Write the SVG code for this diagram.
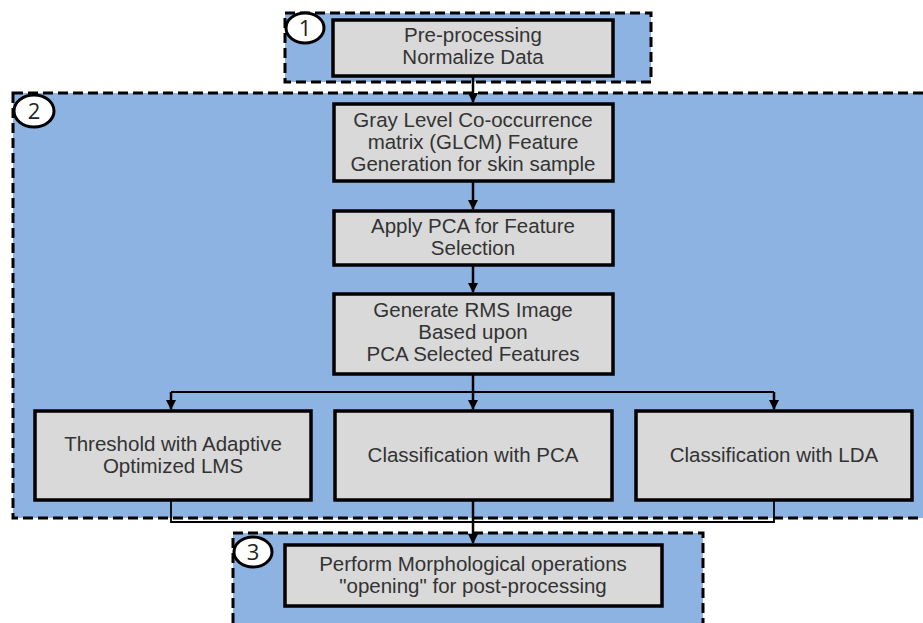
<svg xmlns="http://www.w3.org/2000/svg" width="923" height="623" viewBox="0 0 923 623">
<style>
.region{fill:#8DB3E2;stroke:#000;stroke-width:3;stroke-dasharray:10 5}
.box{fill:#D9D9D9;stroke:#000;stroke-width:3.5}
.t{font-family:"Liberation Sans",Arial,sans-serif;font-size:20.5px;fill:#333;text-anchor:middle}
.num{font-family:"Open Sans","Liberation Sans",sans-serif;font-size:22px;fill:#222;text-anchor:middle}
.badge{fill:#fff;stroke:#000;stroke-width:3}
.c{fill:none;stroke:#000;stroke-width:2.5}
.c2{fill:none;stroke:#000;stroke-width:1.8}
</style>
<defs>
<marker id="ah" markerWidth="10" markerHeight="11" refX="9" refY="5" orient="auto" markerUnits="userSpaceOnUse">
<path d="M0,0 L10,5 L0,10 Z" fill="#000"/>
</marker>
</defs>
<rect width="923" height="623" fill="#fff"/>
<g id="region2"><rect class="region" x="13" y="93" width="930" height="425"/>
<ellipse class="badge" cx="34" cy="111" rx="20" ry="16"/><text class="num" x="34" y="119">2</text></g>
<g id="region1"><rect class="region" x="285" y="13" width="366" height="69"/>
<ellipse class="badge" cx="305" cy="28" rx="19" ry="15"/><text class="num" x="305" y="36">1</text></g>
<g id="region3"><rect class="region" x="233" y="533" width="470" height="100"/>
<ellipse class="badge" cx="253" cy="552" rx="19" ry="15"/><text class="num" x="253" y="560">3</text></g>
<g id="connectors">
<path class="c" d="M473,76 V102" marker-end="url(#ah)"/>
<path class="c" d="M473,181 V209" marker-end="url(#ah)"/>
<path class="c" d="M473,265 V292" marker-end="url(#ah)"/>
<path class="c" d="M473,374 V392"/>
<path class="c2" d="M171,392 H774"/>
<path class="c" d="M171,392 V409" marker-end="url(#ah)"/>
<path class="c" d="M473,392 V409" marker-end="url(#ah)"/>
<path class="c" d="M774,392 V409" marker-end="url(#ah)"/>
<path class="c2" d="M171,500 V522 H774 V500"/>
<path class="c" d="M473,500 V543" marker-end="url(#ah)"/>
</g>
<g id="n1"><rect class="box" x="333" y="20" width="280" height="56"/>
<text class="t" x="473" y="42">Pre-processing</text><text class="t" x="473" y="64">Normalize Data</text></g>
<g id="n2"><rect class="box" x="334" y="104" width="279" height="77"/>
<text class="t" x="473" y="127">Gray Level Co-occurrence</text><text class="t" x="473" y="149">matrix (GLCM) Feature</text><text class="t" x="473" y="171">Generation for skin sample</text></g>
<g id="n3"><rect class="box" x="334" y="211" width="279" height="54"/>
<text class="t" x="473" y="233">Apply PCA for Feature</text><text class="t" x="473" y="255">Selection</text></g>
<g id="n4"><rect class="box" x="334" y="294" width="279" height="80"/>
<text class="t" x="473" y="317">Generate RMS Image</text><text class="t" x="473" y="339">Based upon</text><text class="t" x="473" y="361">PCA Selected Features</text></g>
<g id="n5"><rect class="box" x="35" y="411" width="276" height="89"/>
<text class="t" x="173" y="451">Threshold with Adaptive</text><text class="t" x="173" y="473">Optimized LMS</text></g>
<g id="n6"><rect class="box" x="335" y="411" width="277" height="89"/>
<text class="t" x="473" y="462">Classification with PCA</text></g>
<g id="n7"><rect class="box" x="636" y="411" width="276" height="89"/>
<text class="t" x="774" y="462">Classification with LDA</text></g>
<g id="n8"><rect class="box" x="285" y="545" width="377" height="61"/>
<text class="t" x="473" y="571">Perform Morphological operations</text><text class="t" x="473" y="593">"opening" for post-processing</text></g>
</svg>
